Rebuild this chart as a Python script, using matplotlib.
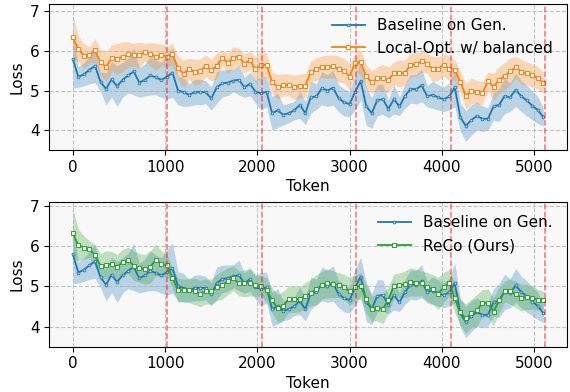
import numpy as np
import matplotlib
matplotlib.use("Agg")
import matplotlib.pyplot as plt

plt.rcParams.update({"font.size": 11, "font.family": "DejaVu Sans"})

# tokens, one point every 60 tokens
tokens = np.arange(0, 5101, 60)
segments = [1024, 2048, 3072, 4096, 5120]

baseline = [5.79, 5.34, 5.41, 5.52, 5.62, 5.22, 5.04, 5.28, 5.11, 5.27,
            5.38, 5.48, 5.20, 5.27, 5.38, 5.33, 5.27, 5.35, 5.45, 5.00,
            4.96, 4.89, 4.96, 4.96, 4.96, 4.80, 5.08, 5.18, 5.20, 5.25,
            5.27, 5.08, 5.17, 4.97, 4.93, 4.97, 4.43, 4.50, 4.39, 4.43,
            4.50, 4.64, 4.43, 4.83, 4.85, 5.06, 5.00, 5.07, 4.81, 4.70,
            4.66, 4.97, 5.24, 4.61, 4.43, 4.76, 4.78, 4.54, 4.78, 4.60,
            4.86, 5.04, 5.03, 5.13, 4.86, 4.89, 4.83, 4.78, 4.85, 5.08,
            4.33, 4.11, 4.26, 4.36, 4.29, 4.29, 4.60, 4.64, 4.86, 4.83,
            5.02, 4.86, 4.75, 4.62, 4.51, 4.33]
baseline_std = [.73, .26, .29, .35, .42, .25, .40, .44, .51, .44,
                .44, .59, .37, .40, .49, .44, .44, .57, .62, .36,
                .36, .28, .32, .32, .29, .29, .40, .34, .33,
                .28, .38, .25, .30, .29, .42, .38, .42, .44, .25,
                .25, .23, .34, .29, .40, .32, .42, .40, .44, .34,
                .34, .32, .46, .48, .48, .38, .40,
                .38, .23, .37, .23, .31, .36, .37, .41, .27, .34,
                .32, .31, .34, .49, .36, .39, .38, .35, .32, .28,
                .34, .42, .44, .36, .42, .39, .39, .36, .34, .23]

local_opt = [6.34, 6.04, 5.87, 5.90, 6.01, 5.71, 5.60, 5.81, 5.80, 5.85,
             5.91, 5.90, 5.89, 5.97, 5.91, 5.85, 5.90, 5.85, 5.91, 5.57,
             5.42, 5.55, 5.46, 5.48, 5.63, 5.51, 5.62, 5.82, 5.70, 5.82,
             5.85, 5.68, 5.76, 5.53, 5.65, 5.64, 5.21, 5.09, 5.14, 5.14,
             5.08, 5.12, 5.12, 5.47, 5.54, 5.60, 5.60, 5.61, 5.54, 5.50,
             5.35, 5.70, 5.71, 5.36, 5.21, 5.31, 5.32, 5.27, 5.43, 5.43,
             5.45, 5.64, 5.66, 5.74, 5.68, 5.54, 5.55, 5.65, 5.55, 5.51,
             5.22, 4.86, 4.99, 4.96, 4.94, 5.24, 5.09, 5.27, 5.36, 5.48,
             5.59, 5.47, 5.43, 5.38, 5.32, 5.19]
local_opt_std = [.56, .32, .32, .21, .30, .33, .38, .34, .39, .37,
                 .32, .29, .33, .22, .29, .34, .27, .25, .28, .29,
                 .35, .26, .33, .31, .27, .27, .32, .19, .25,
                 .28, .21, .25, .23, .32, .36, .29, .27, .31, .28,
                 .28, .31, .29, .31, .27, .29, .27, .29, .29, .32,
                 .31, .34, .23, .31, .29, .29, .29,
                 .34, .32, .29, .34, .32, .29, .29, .28, .25, .32,
                 .29, .28, .31, .25, .27, .32, .32, .29, .29, .23,
                 .34, .34, .34, .34, .27, .31, .29, .29, .28, .27]

reco = [6.31, 6.02, 5.96, 5.92, 5.77, 5.50, 5.53, 5.56, 5.48, 5.60,
        5.64, 5.51, 5.46, 5.42, 5.48, 5.66, 5.55, 5.52, 5.21, 4.90,
        4.90, 4.90, 4.87, 4.82, 4.87, 4.87, 4.97, 5.03, 5.12, 5.20,
        5.07, 5.07, 5.09, 5.02, 5.01, 4.90, 4.65, 4.45, 4.51, 4.68,
        4.68, 4.68, 4.76, 4.84, 4.92, 5.03, 5.07, 5.05, 5.03, 4.98,
        4.87, 4.97, 5.01, 4.69, 4.44, 4.47, 4.44, 4.66, 5.01, 5.02,
        5.05, 5.11, 5.09, 5.07, 4.99, 4.92, 4.82, 4.97, 5.09, 4.70,
        4.35, 4.20, 4.33, 4.40, 4.59, 4.58, 4.37, 4.65, 4.87, 4.87,
        4.80, 4.72, 4.73, 4.72, 4.66, 4.65]
reco_std = [.60, .39, .29, .21, .26, .31, .35, .30, .31, .31,
            .33, .37, .35, .37, .40, .39, .33, .27, .25, .30,
            .27, .30, .33, .33, .31, .31, .33, .35, .33,
            .31, .31, .33, .33, .27, .25, .30, .31, .35, .36,
            .33, .33, .31, .33, .33, .37, .35, .36, .33, .31,
            .31, .35, .31, .33, .36, .31, .33,
            .37, .33, .29, .31, .33, .35, .33, .31, .35, .37,
            .40, .37, .33, .35, .33, .36, .35, .40, .33, .35,
            .35, .31, .26, .31, .33, .33, .31, .29, .26, .23]


def draw(ax, y, s, color, marker, ms, label):
    y = np.array(y)
    s = np.array(s)
    ax.fill_between(tokens, y - s, y + s, color=color, alpha=0.28, lw=0)
    ax.plot(tokens, y, color=color, lw=1.3, marker=marker, ms=ms,
            mfc="white", mew=0.7, label=label)


fig = plt.figure(figsize=(5.7, 3.92), dpi=100)
ax1 = fig.add_axes([0.0865, 0.617, 0.908, 0.372])
ax2 = fig.add_axes([0.0865, 0.1156, 0.908, 0.37])

for ax, other, ostd, ocolor, olabel, ylim in [
        (ax1, local_opt, local_opt_std, "tab:orange", "Local-Opt. w/ balanced", (3.5, 7.17)),
        (ax2, reco, reco_std, "tab:green", "ReCo (Ours)", (3.5, 7.1))]:
    ax.set_facecolor("#f8f8f8")
    draw(ax, baseline, baseline_std, "tab:blue", "o", 1.9, "Baseline on Gen.")
    draw(ax, other, ostd, ocolor, "s", 2.3, olabel)
    for t in segments:
        ax.axvline(t, color="red", ls="--", lw=1.1, alpha=0.55)
    ax.grid(True, ls="--", color="#b0b0b0", alpha=0.7)
    ax.set_xlim(-255, 5355)
    ax.set_ylim(*ylim)
    ax.set_yticks([4, 5, 6, 7])
    ax.set_xticks([0, 1000, 2000, 3000, 4000, 5000])
    ax.set_xlabel("Token", labelpad=3)
    ax.set_ylabel("Loss")
    ax.legend(loc="upper right", frameon=False, handlelength=2.2)

plt.savefig("out.png", dpi=100)
